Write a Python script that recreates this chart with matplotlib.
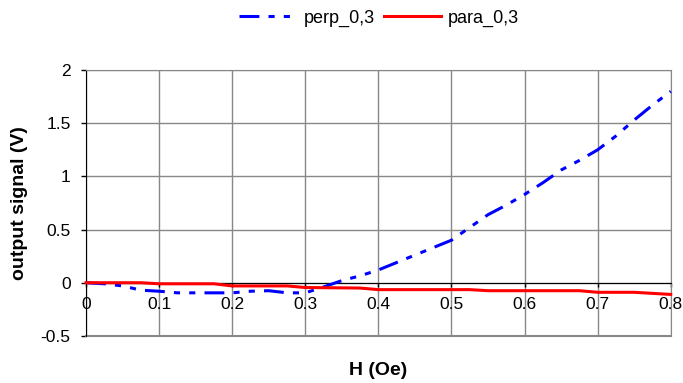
import matplotlib
matplotlib.use("Agg")
from matplotlib import pyplot as plt

plt.rcParams['font.family'] = ['Liberation Sans', 'DejaVu Sans']

# perp_0,3 series
h_perp = [0, 0.025, 0.05, 0.075, 0.1, 0.125, 0.15, 0.175, 0.2, 0.225, 0.25,
          0.275, 0.3, 0.325, 0.35, 0.375, 0.4, 0.425, 0.45, 0.475, 0.5,
          0.525, 0.55, 0.575, 0.6, 0.625, 0.65, 0.675, 0.7, 0.725, 0.75,
          0.775, 0.8]
v_perp = [0, -0.01, -0.03, -0.07, -0.08, -0.095, -0.095, -0.095, -0.095, -0.08, -0.075,
          -0.095, -0.095, -0.04, 0.02, 0.065, 0.12, 0.19, 0.26, 0.33, 0.4,
          0.52, 0.64, 0.73, 0.83, 0.94, 1.06, 1.15, 1.25, 1.38, 1.53,
          1.67, 1.8]

# para_0,3 series
h_para = [0, 0.075, 0.1, 0.175, 0.2, 0.275, 0.3, 0.375, 0.4, 0.525, 0.55,
          0.675, 0.7, 0.75, 0.8]
v_para = [0, 0, -0.01, -0.01, -0.03, -0.03, -0.045, -0.05, -0.065, -0.065, -0.075,
          -0.075, -0.09, -0.09, -0.11]

x_ticks = [0, 0.1, 0.2, 0.3, 0.4, 0.5, 0.6, 0.7, 0.8]
x_labels = ['0', '0.1', '0.2', '0.3', '0.4', '0.5', '0.6', '0.7', '0.8']
y_ticks = [-0.5, 0, 0.5, 1, 1.5, 2]
y_labels = ['-0.5', '0', '0.5', '1', '1.5', '2']

fig = plt.figure(figsize=(6.83, 3.83), dpi=100)
ax = fig.add_axes([0.126, 0.123, 0.856, 0.694])

l1, = ax.plot(h_perp, v_perp, color='#0000ff', lw=2.2, label='perp_0,3',
              dashes=(6.5, 3, 2, 3, 2, 3), dash_capstyle='butt',
              clip_on=False, zorder=3)
l2, = ax.plot(h_para, v_para, color='#ff0000', lw=2.2, label='para_0,3',
              clip_on=False, zorder=4)

ax.set_xlim(0, 0.8)
ax.set_ylim(-0.5, 2)
ax.set_xticks(x_ticks)
ax.set_xticklabels(x_labels)
ax.set_yticks(y_ticks)
ax.set_yticklabels(y_labels)
ax.grid(True, color='#888888', lw=1)
ax.set_axisbelow(True)

ax.spines['bottom'].set_position(('data', 0))
ax.spines['bottom'].set_color('black')
ax.spines['left'].set_color('black')
ax.spines['top'].set_color('#888888')
ax.spines['right'].set_color('#888888')
ax.axhline(-0.5, color='#888888', lw=1.5, clip_on=False)

ax.tick_params(axis='x', direction='out', length=3, width=1, labelsize=12.5, pad=7.5)
ax.tick_params(axis='y', direction='out', length=3.6, width=1, labelsize=12.5, pad=7.5)

ax.set_xlabel('H (Oe)', fontsize=14, fontweight='bold')
ax.xaxis.set_label_coords(0.5, -0.098)
ax.set_ylabel('output signal (V)', fontsize=14, fontweight='bold')
ax.yaxis.set_label_coords(-0.099, 0.5)

fig.legend(handles=[l1, l2], loc='center', bbox_to_anchor=(379 / 683, 1 - 18 / 383),
           ncol=2, frameon=False, fontsize=13, handlelength=3.2,
           handletextpad=0.35, columnspacing=0.5, borderaxespad=0, borderpad=0)

fig.savefig('out.png', dpi=100)
